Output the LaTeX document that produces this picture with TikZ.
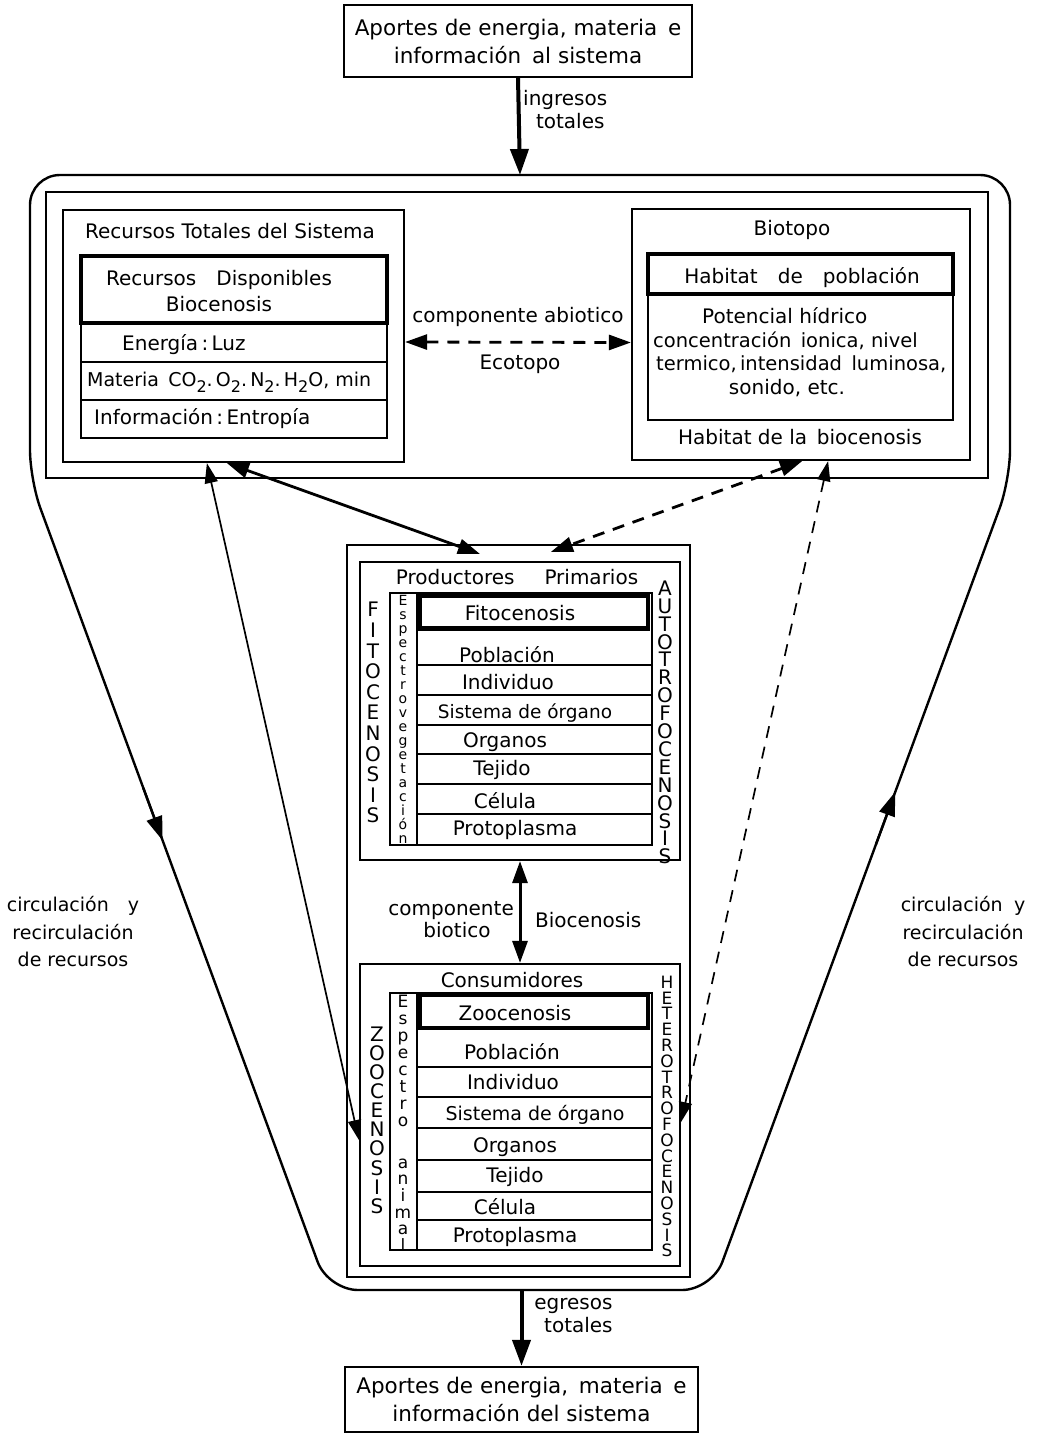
\documentclass[tikz,border=0pt]{standalone}
\usepackage{fontspec}
\setmainfont{DejaVu Sans}
\usetikzlibrary{arrows.meta,calc}
\begin{document}
\begin{tikzpicture}[x=1pt,y=-1pt,
  bx/.style={draw, line width=2.2pt, inner sep=0pt},
  tbx/.style={draw, line width=4.5pt, inner sep=0pt},
  t/.style={font=\fontsize{20}{24}\selectfont, inner sep=0pt, text height=14.6pt, text depth=0pt},
  tm/.style={font=\fontsize{20}{26}\selectfont, inner sep=0pt, align=center},
  lt/.style={t, anchor=west},
  vl/.style={font=\fontsize{20}{20}\selectfont, inner sep=0pt, text height=14.6pt, text depth=0pt},
  vh/.style={font=\fontsize{17}{17}\selectfont, inner sep=0pt, text height=12.4pt, text depth=0pt},
  vs/.style={font=\fontsize{14}{14}\selectfont, inner sep=0pt, text height=10.2pt, text depth=0pt},
  va/.style={font=\fontsize{17}{17}\selectfont, inner sep=0pt, text height=12.4pt, text depth=0pt},
  bigtip/.tip={Triangle[length=26pt,width=18pt]},
  midtip/.tip={Triangle[length=22pt,width=15pt]},
  smalltip/.tip={Triangle[length=20pt,width=13pt]},
  thickconn/.style={line width=2.8pt, midtip-midtip},
  thinconn/.style={line width=1.7pt, smalltip-smalltip},
  dsh/.style={dash pattern=on 12pt off 9pt}
]
\useasboundingbox (0,0) rectangle (1039,1437);

% ---- top and bottom boxes
\node[bx, minimum width=348pt, minimum height=72pt, tm, font=\fontsize{21.5}{28}\selectfont] (top) at (518,41)
  {Aportes de energia, materia\enspace e\\información\enspace al sistema};
\node[bx, minimum width=353pt, minimum height=65pt, tm, font=\fontsize{21.5}{28}\selectfont] (bot) at (521.5,1399.5)
  {Aportes de energia,\enspace materia\enspace e\\información del sistema\quad};

% ---- outer frame
\coordinate (L1) at (30,480);
\coordinate (L2) at (328,1290);
\coordinate (R1) at (1010,480);
\coordinate (R2) at (712,1290);
\coordinate (otop) at (520,175);
\coordinate (obot) at (521.5,1290);
\draw[line width=2.4pt, rounded corners=30pt]
  (L1) -- (30,175) -- (1010,175) -- (R1) -- (R2) -- (L2) -- cycle;
\draw[line width=2.4pt, -{Triangle[length=24pt,width=16pt]}] ($(L1)!0.38!(L2)$) -- ($(L1)!0.445!(L2)$);
\draw[line width=2.4pt, -{Triangle[length=24pt,width=16pt]}] ($(R1)!0.45!(R2)$) -- ($(R1)!0.385!(R2)$);

% ---- inner frame
\node[bx, minimum width=942pt, minimum height=286pt] (frame) at (517,335) {};

% ---- Recursos totales
\node[bx, minimum width=341pt, minimum height=252pt] (RT) at (233.5,336) {};
\node[t] (RTt) at (230,231) {Recursos Totales del Sistema};
\node[bx, minimum width=306pt, minimum height=182pt] (RTrows) at (234,347) {};
\node[tbx, minimum width=306pt, minimum height=67pt] (RD) at (234,289.5) {};
\node[tm] (RDt) at (219,291) {Recursos\quad Disponibles\\Biocenosis};
\draw[line width=2.2pt] (81,323) -- (387,323);
\draw[line width=2.2pt] (81,362) -- (387,362);
\draw[line width=2.2pt] (81,400) -- (387,400);
\node[lt] (en) at (122,343) {Energía\,:\,Luz};
\node[lt, font=\fontsize{19}{22}\selectfont] (ma) at (87,379) {Materia\, CO\raisebox{-6pt}{\fontsize{16}{16}\selectfont 2}.\,O\raisebox{-6pt}{\fontsize{16}{16}\selectfont 2}.\,N\raisebox{-6pt}{\fontsize{16}{16}\selectfont 2}.\,H\raisebox{-6pt}{\fontsize{16}{16}\selectfont 2}O, min};
\node[lt] (inf) at (94,417) {Información\,:\,Entropía};

% ---- Biotopo
\node[bx, minimum width=338pt, minimum height=251pt] (BIO) at (801,334.5) {};
\node[t] (BIOt) at (792,228) {Biotopo};
\node[bx, minimum width=305pt, minimum height=126pt] (HBbox) at (800.5,357) {};
\node[tbx, minimum width=305pt, minimum height=40pt] (HP) at (800.5,274) {};
\node[t] (HPt) at (802,276) {Habitat\quad de\quad población};
\node[lt] (p1) at (702,316) {Potencial hídrico};
\node[lt, font=\fontsize{19.5}{22}\selectfont] (p2) at (653,340) {concentración\, ionica, nivel};
\node[lt, font=\fontsize{19.5}{22}\selectfont] (p3) at (656,363) {termico,\,intensidad\, luminosa,};
\node[t] (p4) at (787,387) {sonido, etc.};
\node[t] (HBt) at (800,437) {Habitat de la\, biocenosis};

% ---- ecotopo
\draw[line width=2.8pt, dsh, midtip-midtip] ([yshift=-6pt]RT.east) -- ([yshift=-8pt]BIO.west);
\node[t] (abio) at (518,315) {componente abiotico};
\node[t] (eco) at (520,362) {Ecotopo};

% ---- center frame
\node[bx, minimum width=343pt, minimum height=732pt] (CF) at (518.5,911) {};

% ---- Productores
\node[bx, minimum width=320pt, minimum height=298pt] (PR) at (520,711) {};
\node[t] (PRt) at (517,577) {Productores\hspace{30pt}Primarios};
\node[bx, minimum width=262pt, minimum height=252pt] (PRrows) at (521,719) {};
\draw[line width=2.2pt] (417,593) -- (417,845);
\node[tbx, minimum width=228pt, minimum height=33pt] (FIT) at (534,612) {};
\foreach \yy in {665,695,725,754,784,814} \draw[line width=2.2pt] (417,\yy) -- (652,\yy);
\node[t] (r1) at (520,613) {Fitocenosis};
\node[t] (r2) at (507,655) {Población};
\node[t] (r3) at (508,682) {Individuo};
\node[t, font=\fontsize{18.5}{22}\selectfont] (r4) at (525,711) {Sistema de órgano};
\node[t] (r5) at (505,740) {Organos};
\node[t] (r6) at (502,768) {Tejido};
\node[t] (r7) at (505,801) {Célula};
\node[t] (r8) at (515,828) {Protoplasma};
\foreach \l [count=\i from 0] in {F,I,T,O,C,E,N,O,S,I,S}
  \node[vl] (fi\i) at (373,609.5+20.6*\i) {\l};
\foreach \l [count=\i from 0] in {A,U,T,O,T,R,O,F,O,C,E,N,O,S,I,S}
  \node[vl] (au\i) at (665,588+17.9*\i) {\l};
\foreach \l [count=\i from 0] in {E,s,p,e,c,t,r,o,v,e,g,e,t,a,c,i,ó,n}
  \node[vs] (ev\i) at (403,600+14*\i) {\l};

% ---- Consumidores
\node[bx, minimum width=320pt, minimum height=302pt] (CO) at (520,1115) {};
\node[t] (COt) at (512,980) {Consumidores};
\node[bx, minimum width=262pt, minimum height=257pt] (COrows) at (521,1121.5) {};
\draw[line width=2.2pt] (417,993) -- (417,1250);
\node[tbx, minimum width=228pt, minimum height=33pt] (ZOO) at (534,1011.5) {};
\foreach \yy in {1067,1097,1128,1160,1192,1220} \draw[line width=2.2pt] (417,\yy) -- (652,\yy);
\node[t] (c1) at (515,1013) {Zoocenosis};
\node[t] (c2) at (512,1052) {Población};
\node[t] (c3) at (513,1082) {Individuo};
\node[t, font=\fontsize{19}{22}\selectfont] (c4) at (535,1113) {Sistema de órgano};
\node[t] (c5) at (515,1145) {Organos};
\node[t] (c6) at (515,1175) {Tejido};
\node[t] (c7) at (505,1207) {Célula};
\node[t] (c8) at (515,1235) {Protoplasma};
\foreach \l [count=\i from 0] in {Z,O,O,C,E,N,O,S,I,S}
  \node[vl] (zo\i) at (377,1034+19.1*\i) {\l};
\foreach \l [count=\i from 0] in {H,E,T,E,R,O,T,R,O,F,O,C,E,N,O,S,I,S}
  \node[vh] (he\i) at (667,982+15.8*\i) {\l};
\foreach \l [count=\i from 0] in {E,s,p,e,c,t,r,o}
  \node[va] (es\i) at (403,1001+17*\i) {\l};
\foreach \l [count=\i from 0] in {a,n,i,m,a,l}
  \node[va] (an\i) at (403,1162+16.6*\i) {\l};

% ---- biotico
\draw[line width=3pt, midtip-midtip] (PR.south) -- (CO.north);
\node[t, anchor=east] (comp) at (514,908) {componente};
\node[t] (biot) at (457,930) {biotico};
\node[t, anchor=west] (bioc) at (535,920) {Biocenosis};

% ---- ingresos / egresos
\draw[line width=4pt, -bigtip] (top.south) -- (otop);
\node[tm, anchor=north west] (ing) at (523,90) {ingresos\\[-3pt]\enspace totales};
\draw[line width=4pt, -bigtip] (obot) -- (bot.north);
\node[tm, anchor=north west] (egr) at (534,1298) {egresos\\[-3pt]\enspace totales};

% ---- side labels
\node[tm, font=\fontsize{19}{27.5}\selectfont] (cl) at (73,932) {circulación\quad y\\recirculación\\de recursos};
\node[tm, font=\fontsize{19}{27.5}\selectfont] (cr) at (963,932) {circulación\; y\\recirculación\\de recursos};

% ---- connectors
\draw[thickconn] ([xshift=165pt]RT.south west) -- ([xshift=134pt,yshift=-10pt]CF.north west);
\draw[thinconn] ([xshift=145pt]RT.south west) -- ([yshift=-25pt]CO.west);
\draw[thickconn, dsh] ([xshift=-169pt]BIO.south east) -- ([xshift=205pt,yshift=-8pt]CF.north west);
\draw[thinconn, dsh] ([xshift=-143pt]BIO.south east) -- ([yshift=-7pt]CO.east);
\end{tikzpicture}
\end{document}
